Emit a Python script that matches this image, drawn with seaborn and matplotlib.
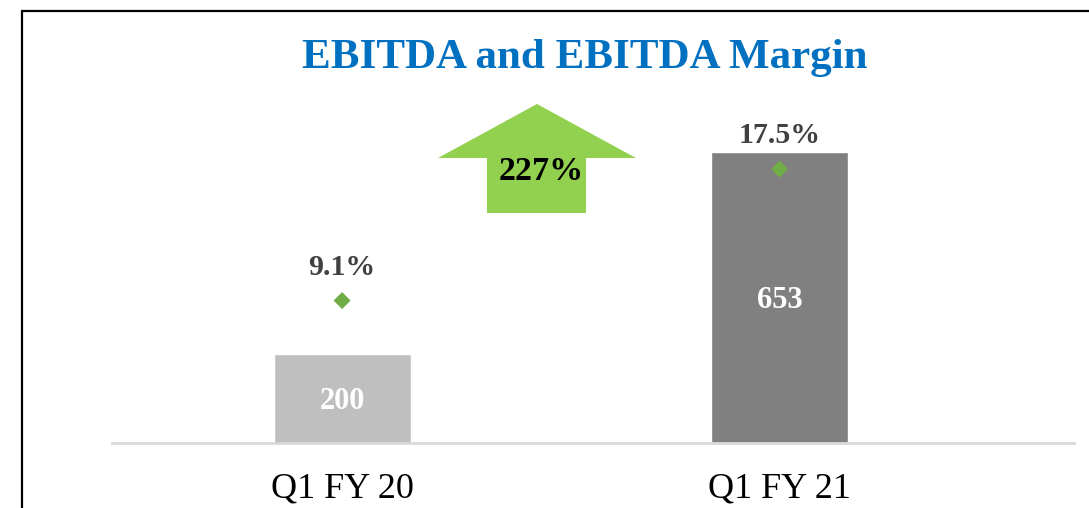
import matplotlib
matplotlib.use("Agg")
import matplotlib.pyplot as plt
from matplotlib.patches import Rectangle, Polygon
import seaborn as sns
import pandas as pd

# Data
quarters = ["Q1 FY 20", "Q1 FY 21"]
ebitda = [200, 653]
margin = [9.1, 17.5]
growth_label = "227%"
bar_colors = ["#bfbfbf", "#808080"]

df = pd.DataFrame({"quarter": quarters, "ebitda": ebitda, "margin": margin})

sns.set_style("white")
plt.rcParams["font.family"] = ["Liberation Serif", "DejaVu Serif"]

fig = plt.figure(figsize=(10.89, 5.08), dpi=100)
W, H = 1089, 508
ax = fig.add_axes([112 / W, (H - 443) / H, (1074 - 112) / W, (443 - 100) / H])

sns.barplot(data=df, x="quarter", y="ebitda", hue="quarter", palette=bar_colors,
            width=0.313, legend=False, ax=ax, saturation=1)
ax.set_xlim(-0.526, 1.673)
ax.set_ylim(0, 343 / 0.4456)

for i, v in enumerate(df["ebitda"]):
    ax.annotate(f"{v}", (i, v / 2), xytext=(0, -2), textcoords="offset points",
                ha="center", va="center", color="white",
                fontsize=22, fontweight="bold")

# EBITDA margin on a secondary axis
ax2 = ax.twinx()
sns.scatterplot(x=range(len(quarters)), y=df["margin"], marker="D", s=75,
                color="#70ad47", edgecolor="none", ax=ax2, zorder=5)
ax2.set_ylim(0, 343 / 15.65)
for i, m in enumerate(df["margin"]):
    ax2.annotate(f"{m}%", (i, m), xytext=(0, 24), textcoords="offset points",
                 ha="center", va="center", color="#404040", fontsize=21.5,
                 fontweight="bold")

for a in (ax, ax2):
    a.set_yticks([])
    a.set_ylabel("")
    for s in a.spines.values():
        s.set_visible(False)
ax.spines["bottom"].set_visible(True)
ax.spines["bottom"].set_color("#d9d9d9")
ax.spines["bottom"].set_linewidth(2)
ax.set_xlabel("")
ax.tick_params(axis="x", length=0, pad=21, labelsize=26, labelcolor="black")

# Growth arrow (axes fraction)
px = [(487, 213), (487, 158), (438, 158), (537, 104), (636, 158), (586, 158), (586, 213)]
pts = [((x - 112) / (1074 - 112), (443 - y) / (443 - 100)) for x, y in px]
arrow = Polygon(pts, closed=True, transform=ax.transAxes, facecolor="#92d050",
                edgecolor="none", clip_on=False, zorder=3)
ax.add_patch(arrow)
ax.text((541 - 112) / (1074 - 112), (443 - 171) / (443 - 100), growth_label,
        transform=ax.transAxes, ha="center", va="center", fontsize=24.5,
        fontweight="bold", color="black", zorder=4)

fig.text(585 / W, 1 - 58 / H, "EBITDA and EBITDA Margin", ha="center", va="center",
         color="#0070c0", fontsize=31, fontweight="bold")

fig.patches.append(Rectangle((22 / W, -0.1), 1.2, 1 - 11 / H + 0.1,
                             transform=fig.transFigure, fill=False,
                             edgecolor="black", linewidth=1.6))

fig.savefig("out.png", dpi=100)
